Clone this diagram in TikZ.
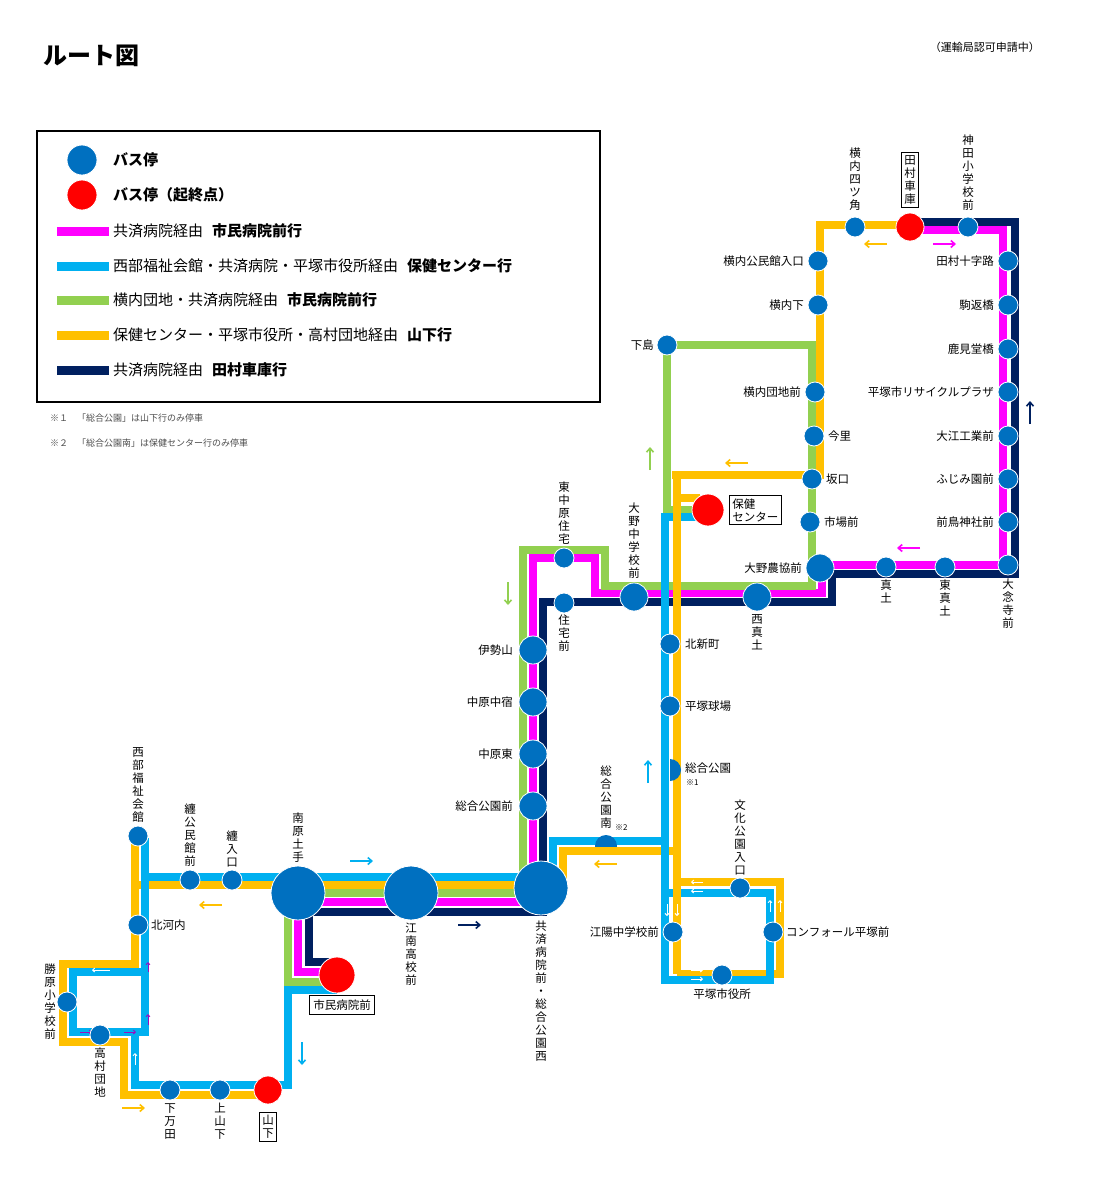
\documentclass[tikz,border=0pt]{standalone}
\usepackage{fontspec}
\usetikzlibrary{arrows.meta}
\setmainfont{Noto Sans CJK JP}
\definecolor{cy}{HTML}{00B0F0}
\definecolor{ye}{HTML}{FFC000}
\definecolor{gr}{HTML}{92D050}
\definecolor{mg}{HTML}{FF00FF}
\definecolor{nv}{HTML}{002060}
\definecolor{st}{HTML}{0070C0}
\definecolor{rd}{HTML}{FF0000}
\tikzset{
 ln/.style={line width=8.5pt,line join=miter},
 stop/.style={circle,fill=st,draw=white,line width=0.8pt,minimum size=20pt,inner sep=0},
 bigstop/.style={stop,minimum size=54pt},
 midstop/.style={stop,minimum size=28pt},
 term/.style={circle,fill=rd,draw=white,line width=0.8pt,minimum size=28pt,inner sep=0},
 lab/.style={font=\fontsize{11.5}{13}\selectfont,inner sep=1pt},
 vlab/.style={lab,align=center},
 box/.style={draw,line width=0.8pt,inner sep=3pt},
 arr/.style={-{Straight Barb[length=4pt,width=7pt]},line width=1.6pt},
 sarr/.style={-{Straight Barb[length=2pt,width=4pt]},line width=1pt},
 leg/.style={font=\fontsize{15}{17}\selectfont,anchor=west,inner sep=0},
}
\begin{document}
\begin{tikzpicture}[x=1pt,y=-1pt]
\useasboundingbox (0,0) rectangle (1100,1200);
% routes
\draw[ln,nv] (337,962) -- (309,962) -- (309,912) -- (543,912) -- (543,602) -- (832,602) -- (832,574) -- (1015,574) -- (1015,222) -- (910,222);
\draw[ln,mg] (337,972) -- (298,972) -- (298,902) -- (533,902) -- (533,558) -- (595,558) -- (595,593) -- (822,593) -- (822,565) -- (1003,565) -- (1003,230) -- (910,230);
\draw[ln,gr] (337,982) -- (288,982) -- (288,893) -- (523,893) -- (523,550) -- (605,550) -- (605,586) -- (812,586) -- (812,345) -- (667,345) -- (667,510) -- (700,510);
\draw[ln,ye] (268,1095) -- (124,1095) -- (124,1042) -- (63,1042) -- (63,964) -- (135,964) -- (135,838);
\draw[ln,ye] (135,885) -- (541,885);
\draw[ln,ye] (541,885) -- (563,885) -- (563,851) -- (677,851);
\draw[ln,ye] (677,882) -- (780,882) -- (780,974) -- (677,974);
\draw[ln,cy] (337,990) -- (288,990) -- (288,1085) -- (135,1085) -- (135,1032);
\draw[ln,cy] (145,838) -- (145,1036);
\draw[ln,cy] (145,1032) -- (73,1032) -- (73,972) -- (145,972);
\draw[ln,cy] (145,877) -- (541,877);
\draw[ln,cy] (541,884) -- (553,884) -- (553,841) -- (665,841);
\draw[ln,cy] (700,517) -- (665,517) -- (665,980) -- (770,980) -- (770,893) -- (665,893);
\draw[ln,ye] (700,498) -- (677,498);
\draw[ln,ye] (677,475) -- (677,974);
\draw[ln,ye] (672,475) -- (820,475) -- (820,225) -- (910,225);
% small loop arrows
\draw[sarr,white] (110,970) -- (92,970);
\draw[sarr,white] (135,1005) -- (135,993);
\draw[sarr,white] (135,1065) -- (135,1053);
\draw[sarr,mg!60!nv] (148,972) -- (148,962);
\draw[sarr,mg!60!nv] (148,1025) -- (148,1014);
\draw[sarr,mg!60!nv] (80,1032) -- (92,1032);
\draw[sarr,mg!60!nv] (124,1032) -- (136,1032);
\draw[sarr,white] (703,882) -- (691,882);
\draw[sarr,white] (703,891) -- (691,891);
\draw[sarr,white] (667,904) -- (667,916);
\draw[sarr,white] (677,904) -- (677,916);
\draw[sarr,white] (770,912) -- (770,900);
\draw[sarr,white] (780,912) -- (780,900);
\draw[sarr,white] (691,970) -- (703,970);
\draw[sarr,white] (691,979) -- (703,979);
% big arrows
\draw[arr,cy] (350,861) -- (373,861);
\draw[arr,ye] (222,905) -- (199,905);
\draw[arr,nv] (458,925) -- (481,925);
\draw[arr,cy] (302,1042) -- (302,1065);
\draw[arr,ye] (122,1108) -- (145,1108);
\draw[arr,gr] (508,582) -- (508,605);
\draw[arr,gr] (650,470) -- (650,447);
\draw[arr,ye] (748,463) -- (725,463);
\draw[arr,cy] (648,783) -- (648,760);
\draw[arr,ye] (617,864) -- (594,864);
\draw[arr,ye] (887,244) -- (864,244);
\draw[arr,mg] (933,244) -- (956,244);
\draw[arr,mg] (920,548) -- (897,548);
\draw[arr,nv] (1030,424) -- (1030,401);
% stops
\node[stop] (shimojima) at (667,345) {};
\node[lab,anchor=east] at (655,345) {下島};
\node[stop] (ykoumin) at (818,261) {};
\node[lab,anchor=east] at (805,261) {横内公民館入口};
\node[stop] (yshita) at (818,305) {};
\node[lab,anchor=east] at (805,305) {横内下};
\node[stop] (yotsu) at (855,227) {};
\node[vlab,anchor=south] at (855,212) {横\\内\\四\\ツ\\角};
\node[term] (tamura) at (910,227) {};
\node[vlab,box,anchor=south] at (910,208) {田\\村\\車\\庫};
\node[stop] (kanda) at (968,227) {};
\node[vlab,anchor=south] at (968,212) {神\\田\\小\\学\\校\\前};
\foreach \y/\t in {261/田村十字路,305/駒返橋,349/鹿見堂橋,392/平塚市リサイクルプラザ,436/大江工業前,479/ふじみ園前,522/前鳥神社前}
 {\node[stop] at (1008,\y) {}; \node[lab,anchor=east] at (995,\y) {\t};}
\node[stop] (dainen) at (1008,565) {};
\node[vlab,anchor=north] at (1008,578) {大\\念\\寺\\前};
\node[stop] (mado) at (886,567) {};
\node[vlab,anchor=north] at (886,579) {真\\土};
\node[stop] (hmado) at (945,567) {};
\node[vlab,anchor=north] at (945,579) {東\\真\\土};
\node[midstop] (noukyo) at (820,568) {};
\node[lab,anchor=east] at (803,568) {大野農協前};
\node[stop] (ichiba) at (810,522) {};
\node[lab,anchor=west] at (823,522) {市場前};
\node[stop] (sakaguchi) at (812,479) {};
\node[lab,anchor=west] at (825,479) {坂口};
\node[stop] (imazato) at (814,436) {};
\node[lab,anchor=west] at (827,436) {今里};
\node[stop] (ydanchi) at (815,392) {};
\node[lab,anchor=east] at (802,392) {横内団地前};
\node[term,minimum size=32pt] (hoken) at (708,510) {};
\node[lab,box,align=left,anchor=west] at (729,510) {保健\\センター};
\node[midstop] (nmado) at (757,597) {};
\node[vlab,anchor=north] at (757,613) {西\\真\\土};
\node[midstop] (oonochu) at (634,597) {};
\node[vlab,anchor=south] at (634,580) {大\\野\\中\\学\\校\\前};
\node[stop] (hnaka) at (564,558) {};
\node[vlab,anchor=south] at (564,546) {東\\中\\原\\住\\宅};
\node[stop] (jutaku) at (564,603) {};
\node[vlab,anchor=north] at (564,614) {住\\宅\\前};
\foreach \y/\t in {650/伊勢山,702/中原中宿,754/中原東,806/総合公園前}
 {\node[midstop] at (533,\y) {}; \node[lab,anchor=east] at (514,\y) {\t};}
\node[stop] (kitashin) at (670,644) {};
\node[lab,anchor=west] at (684,644) {北新町};
\node[stop] (kyujo) at (670,706) {};
\node[lab,anchor=west] at (684,706) {平塚球場};
\begin{scope}
 \clip (670,750) rectangle (690,790);
 \fill[st] (670,770) circle[radius=11];
\end{scope}
\node[lab,anchor=west] (sogo) at (684,768) {総合公園};
\node[font=\fontsize{8}{9}\selectfont,anchor=west,inner sep=0] at (686,783) {※1};
\begin{scope}
 \clip (590,826) rectangle (625,846);
 \fill[st] (606,846) circle[radius=11];
\end{scope}
\node[vlab,anchor=south] at (606,830) {総\\合\\公\\園\\南};
\node[font=\fontsize{8}{9}\selectfont,anchor=west,inner sep=0] at (615,828) {※2};
\node[stop] (bunka) at (740,888) {};
\node[vlab,anchor=south] at (740,876) {文\\化\\公\\園\\入\\口};
\node[stop] (kouyou) at (673,932) {};
\node[lab,anchor=east] at (660,932) {江陽中学校前};
\node[stop] (confort) at (773,932) {};
\node[lab,anchor=west] at (785,932) {コンフォール平塚前};
\node[stop] (shiyaku) at (722,975) {};
\node[lab,anchor=north] at (722,988) {平塚市役所};
\node[bigstop] (kyousai) at (541,888) {};
\node[vlab,anchor=north] at (541,920) {共\\済\\病\\院\\前\\・\\総\\合\\公\\園\\西};
\node[bigstop] (kounan) at (411,893) {};
\node[vlab,anchor=north] at (411,922) {江\\南\\高\\校\\前};
\node[bigstop] (minami) at (298,893) {};
\node[vlab,anchor=south] at (298,864) {南\\原\\土\\手};
\node[stop] (matoiiri) at (232,880) {};
\node[vlab,anchor=south] at (232,868) {纏\\入\\口};
\node[stop] (matoikou) at (190,880) {};
\node[vlab,anchor=south] at (190,868) {纏\\公\\民\\館\\前};
\node[stop] (seibu) at (138,836) {};
\node[vlab,anchor=south] at (138,824) {西\\部\\福\\祉\\会\\館};
\node[stop] (kitakouchi) at (138,925) {};
\node[lab,anchor=west] at (150,925) {北河内};
\node[stop] (katsuhara) at (67,1002) {};
\node[vlab,anchor=east] at (57,1002) {勝\\原\\小\\学\\校\\前};
\node[stop] (takamura) at (100,1035) {};
\node[vlab,anchor=north] at (100,1047) {高\\村\\団\\地};
\node[stop] (shimoman) at (170,1090) {};
\node[vlab,anchor=north] at (170,1102) {下\\万\\田};
\node[stop] (kamiyama) at (220,1090) {};
\node[vlab,anchor=north] at (220,1102) {上\\山\\下};
\node[term] (yamashita) at (268,1090) {};
\node[vlab,box,anchor=north] at (268,1112) {山\\下};
\node[term,minimum size=36pt] (shimin) at (337,975) {};
\node[lab,box,anchor=north,inner sep=4pt] at (342,995) {市民病院前};
% title etc
\node[font=\fontsize{24}{26}\selectfont\bfseries,anchor=west,inner sep=0] (title) at (43,56) {ルート図};
\node[font=\fontsize{11}{13}\selectfont,anchor=east,inner sep=0] (ninka) at (1040,47) {（運輸局認可申請中）};
\node[font=\fontsize{9}{11}\selectfont,anchor=west,inner sep=0,text=black!70] (n1) at (50,418) {※１　「総合公園」は山下行のみ停車};
\node[font=\fontsize{9}{11}\selectfont,anchor=west,inner sep=0,text=black!70] (n2) at (50,443) {※２　「総合公園南」は保健センター行のみ停車};
% legend
\draw[line width=2pt] (37,131) rectangle (600,402);
\node[stop,minimum size=30pt] (l1) at (82,160) {};
\node[leg] at (113,160) {\bfseries バス停};
\node[term,minimum size=30pt] (l2) at (82,195) {};
\node[leg] at (113,195) {\bfseries バス停（起終点）};
\foreach \y/\c/\a/\b in {231/mg/共済病院経由/市民病院前行,266/cy/西部福祉会館・共済病院・平塚市役所経由/保健センター行,300/gr/横内団地・共済病院経由/市民病院前行,335/ye/保健センター・平塚市役所・高村団地経由/山下行,370/nv/共済病院経由/田村車庫行}
 {\draw[line width=9pt,\c] (57,\y) -- (109,\y);
  \node[leg] at (113,\y) {\a\hspace{0.6em}{\bfseries\b}};}
\end{tikzpicture}
\end{document}
